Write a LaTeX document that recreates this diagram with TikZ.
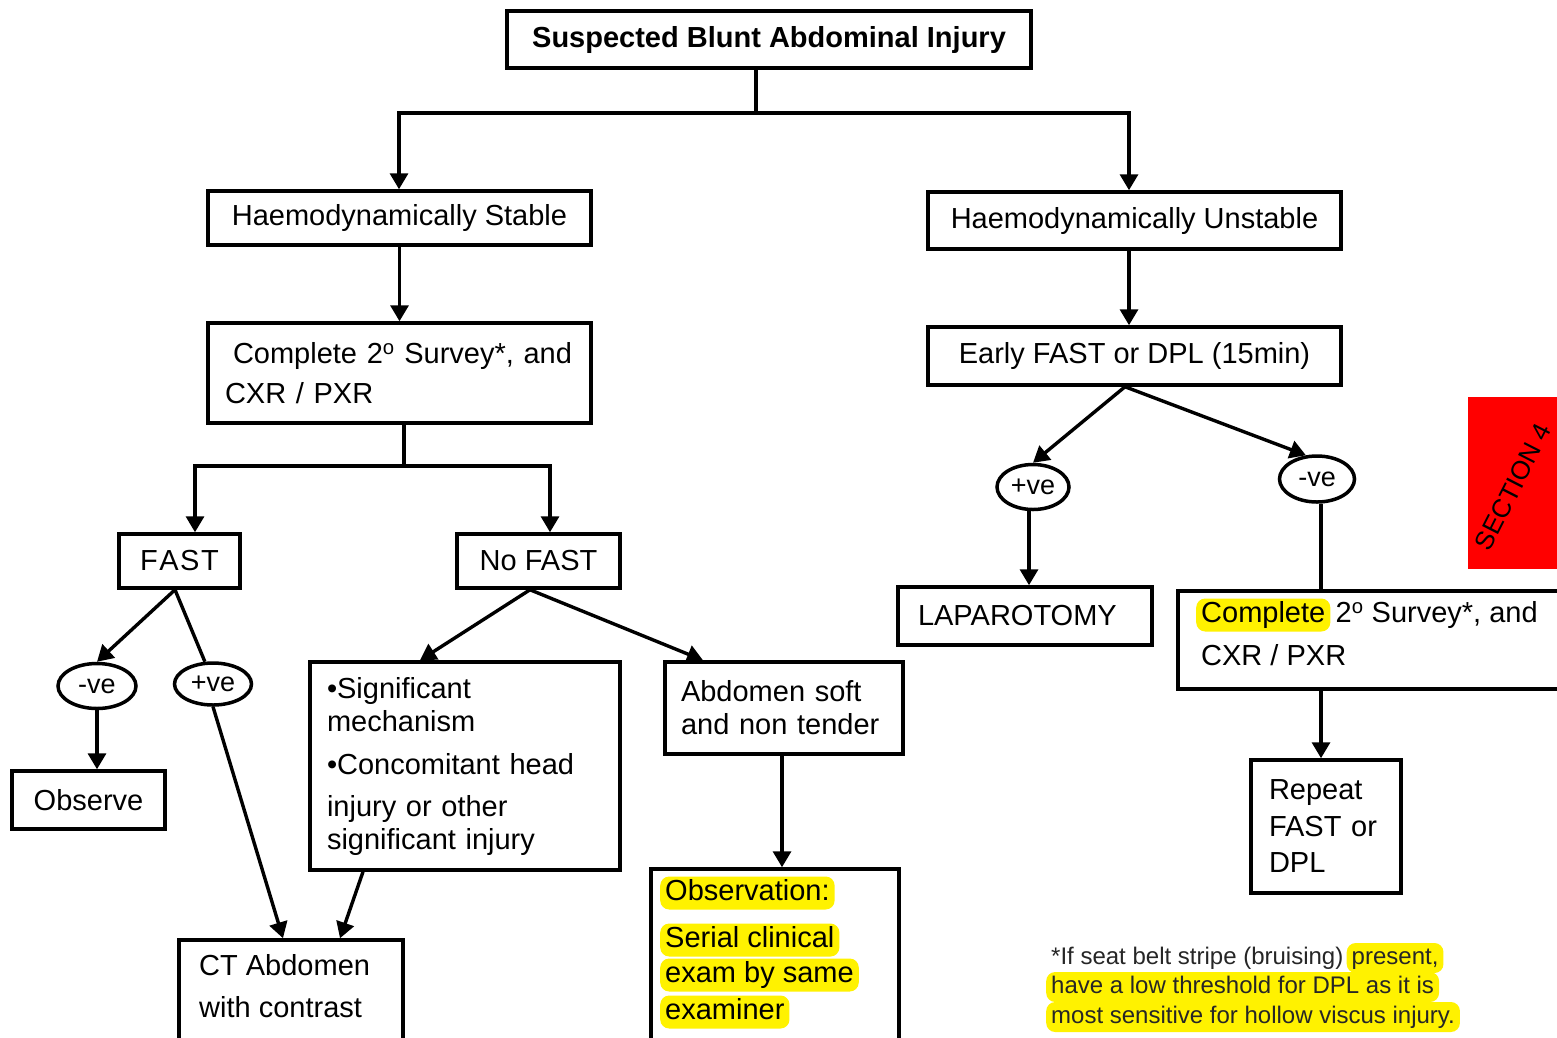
\documentclass[tikz,border=0pt]{standalone}
\usepackage{fontspec}
\setmainfont{Liberation Sans}
\usetikzlibrary{shapes.geometric,arrows.meta}
\newcommand{\fsz}[2]{\fontsize{#1}{#2}\selectfont}
\begin{document}
\begin{tikzpicture}[x=1pt,y=-1pt,
 box/.style={draw,line width=3.5pt,inner sep=0pt,font=\fsz{29}{33}},
 oval/.style={draw,ellipse,line width=3.5pt,inner sep=0pt,font=\fsz{27}{30}},
 conn/.style={line width=3.4pt},
 arr/.style={conn,-{Triangle[width=18pt,length=16pt]}},
 hl/.style={fill=yellow,rounded corners=9pt,inner xsep=5pt,inner ysep=3pt,text height=21pt,text depth=6pt,font=\fsz{29}{33}},
 txt/.style={inner sep=0pt,font=\fsz{29}{33},text height=21pt,text depth=6pt},
 foot/.style={font=\fsz{24}{30},text height=17pt,text depth=5pt,inner ysep=4pt,text=black!85},
]
\useasboundingbox (0,0) rectangle (1557,1037);
\clip (0,0) rectangle (1557,1037);
\fill[white] (0,0) rectangle (1557,1037);

% boxes
\node[box,minimum width=524pt,minimum height=57pt,font=\bfseries\fsz{29}{33}] (title) at (769,39.5) {Suspected Blunt Abdominal Injury};
\node[box,minimum width=383pt,minimum height=54pt] (hs) at (399.5,218) {Haemodynamically Stable};
\node[box,minimum width=413pt,minimum height=57pt] (hu) at (1134.5,220.5) {Haemodynamically Unstable};
\node[box,minimum width=383pt,minimum height=100pt,text width=349pt,inner xsep=17pt,align=left,font=\fsz{29}{40}] (comp1) at (399.5,373) {\hspace{8pt}Complete 2\textsuperscript{o} Survey*, and\\CXR / PXR};
\node[box,minimum width=121pt,minimum height=54pt] (fast) at (179.5,561) {F\kern1.5pt A\kern1.5pt S\kern1.5pt T};
\node[box,minimum width=163pt,minimum height=54pt] (nofast) at (538.5,561) {No FAST};
\node[oval,minimum width=78pt,minimum height=45pt] (nve1) at (97,686) {-ve};
\node[oval,minimum width=77pt,minimum height=42pt] (pve1) at (213,684) {+ve};
\node[box,minimum width=153pt,minimum height=58pt] (observe) at (88.5,800) {Observe};
\node[box,minimum width=310pt,minimum height=208pt,text width=276pt,inner xsep=17pt,align=left] (bul) at (465,766) {•Significant\\mechanism\\[10pt]•Concomitant head\\[9pt]injury or other\\significant injury};
\node[box,minimum width=238pt,minimum height=92pt,text width=206pt,inner xsep=16pt,align=left] (abd) at (784,708) {Abdomen soft\\and non tender};
\node[box,minimum width=248pt,minimum height=190pt] (obs) at (775,964) {};
\node[hl,anchor=west] (obs1) at (660,893) {Observation:};
\node[hl,anchor=west] (obs2) at (660,940) {Serial clinical};
\node[hl,anchor=west] (obs3) at (660,975) {exam by same};
\node[hl,anchor=west] (obs4) at (660,1012) {examiner};
\node[box,minimum width=224pt,minimum height=120pt] (ct) at (291,1000) {};
\node[txt,anchor=west] (ct1) at (199,968) {CT Abdomen};
\node[txt,anchor=west] (ct2) at (199,1010) {with contrast};

\node[box,minimum width=413pt,minimum height=58pt] (efast) at (1134.5,356) {Early FAST or DPL (15min)};
\node[oval,minimum width=72pt,minimum height=45pt] (pve2) at (1033,487) {+ve};
\node[oval,minimum width=75pt,minimum height=46pt] (nve2) at (1317,479) {-ve};
\node[box,minimum width=254pt,minimum height=58pt,text width=214pt,inner xsep=20pt,align=left] (lap) at (1025,616) {LAPAROTOMY};
\node[box,minimum width=422pt,minimum height=98pt] (comp2) at (1389,640) {};
\node[hl,anchor=west] (comp2a) at (1196,615) {Complete};
\node[txt,anchor=base west] (comp2b) at ([xshift=5pt]comp2a.base east) {2\textsuperscript{o} Survey*, and};
\node[txt,anchor=west] (comp2c) at (1201,658) {CXR / PXR};
\node[box,minimum width=150pt,minimum height=133pt,text width=114pt,inner xsep=18pt,align=left,font=\fsz{29}{36.5}] (rep) at (1326,826.5) {Repeat\\FAST or\\DPL};

\node[fill=red,minimum width=92pt,minimum height=172pt,inner sep=0pt] (sec) at (1514,483) {};
\node[rotate=63,inner sep=0pt,font=\fsz{26}{28}] (sectxt) at (1513,487) {SECTION 4};

% footnote
\node[foot,inner xsep=0pt,anchor=west] (f1) at (1051,958) {*If seat belt stripe (bruising)};
\node[hl,foot,anchor=base west] (f2) at ([xshift=3pt]f1.base east) {present,};
\node[hl,foot,anchor=west] (f3) at (1046,987) {have a low threshold for DPL as it is};
\node[hl,foot,anchor=west] (f4) at (1046,1017) {most sensitive for hollow viscus injury.};

% connectors
\coordinate (t1) at (756,113);
\draw[conn] (title.south -| t1) -- (t1);
\draw[arr] (t1) -| ([xshift=-0.5pt]hs.north);
\draw[arr] (t1) -| ([xshift=-5.5pt]hu.north);
\draw[arr] (hs.south) -- (comp1.north);
\coordinate (c2) at (404,466);
\draw[conn] ([xshift=4.5pt]comp1.south) -- (c2);
\draw[arr] (c2) -| ([xshift=15.5pt]fast.north);
\draw[arr] (c2) -| ([xshift=11.5pt]nofast.north);
\draw[arr] ([xshift=-4.5pt]fast.south) -- (nve1.north);
\draw[conn] ([xshift=-4.5pt]fast.south) -- (pve1.110);
\draw[arr] (nve1.south) -- (nve1.south |- observe.north);
\draw[arr] (pve1.south) -- ([xshift=-8pt]ct.north);
\draw[arr] ([xshift=-102pt]bul.south) -- ([xshift=49pt]ct.north);
\draw[arr] ([xshift=-8.5pt]nofast.south) -- ([xshift=-45pt]bul.north);
\draw[arr] ([xshift=-8.5pt]nofast.south) -- ([xshift=-81pt]abd.north);
\coordinate (a1) at ([xshift=-2pt]abd.south);
\draw[arr] (a1) -- (a1 |- obs.north);
\draw[arr] ([xshift=-5.5pt]hu.south) -- ([xshift=-5.5pt]efast.north);
\draw[arr] ([xshift=-9.5pt]efast.south) -- (pve2.north);
\draw[arr] ([xshift=-9.5pt]efast.south) -- (nve2.115);
\coordinate (p2) at ([xshift=-4pt]pve2.south);
\draw[arr] (p2) -- (p2 |- lap.north);
\coordinate (n2) at ([xshift=4pt]nve2.south);
\draw[conn] (n2) -- (n2 |- comp2.north);
\coordinate (r1) at ([xshift=-5pt]rep.north);
\draw[arr] (comp2.south -| r1) -- (r1);
\end{tikzpicture}
\end{document}
